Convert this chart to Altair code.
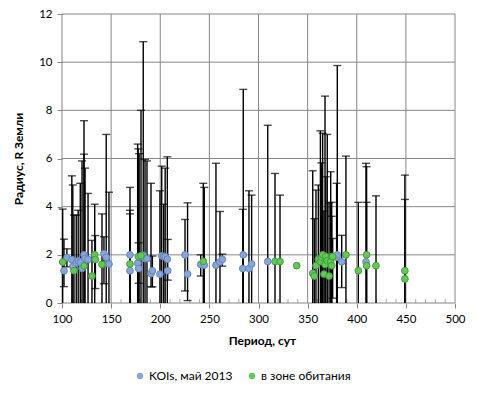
import altair as alt
import pandas as pd

# --- data ---
koi_period = [102.0, 105.0, 110.0, 111.0, 114.5, 116.5, 118.6, 120.4, 122.4, 123.5, 126.5,
              142.7, 145.0, 147.8, 169.2, 169.2, 177.0, 178.0, 178.5, 182.7, 184.5, 186.5,
              190.6, 192.0, 199.7, 201.5, 203.5, 205.0, 207.2, 207.6, 225.2, 227.8, 241.2,
              244.8, 256.7, 260.8, 263.2, 284.5, 284.0, 290.3, 293.0, 309.4, 379.5, 380.2,
              384.7, 409.4]
koi_radius = [1.34, 1.88, 1.80, 1.52, 1.67, 1.75, 1.69, 1.44, 2.00, 1.85, 1.81,
              2.05, 1.90, 1.62, 2.00, 1.34, 1.65, 1.43, 1.90, 1.98, 1.84, 1.84,
              1.22, 1.34, 1.20, 1.96, 1.93, 1.93, 1.82, 1.34, 2.00, 1.20, 1.60,
              1.57, 1.57, 1.71, 1.81, 2.00, 1.43, 1.43, 1.62, 1.72, 1.90, 2.00,
              1.71, 1.71]
koi_top = [2.65, 2.25, 5.28, 4.90, 3.65, 3.85, 4.97, 5.90, 7.57, 5.60, 4.55,
           2.75, 7.00, 4.60, 4.80, 3.70, 6.60, 2.50, 6.20, 10.85, 5.96, 5.90,
           4.97, 1.95, 4.66, 5.68, 4.10, 5.60, 6.07, 2.64, 3.47, 4.16, 2.00,
           4.80, 5.80, 3.80, 2.03, 8.87, 3.89, 4.66, 4.48, 7.38, 4.97, 9.86,
           2.81, 5.80]
koi_bottom = [0.68, 1.50, 0, 0, 0, 0, 0, 0, 0, 0, 0,
              0.80, 0, 0, 0, 0, 0, 0.82, 0, 0, 0, 0,
              0.67, 0.67, 0, 0, 0, 0, 0, 0.95, 0.50, 0.10, 1.12,
              0, 0, 0, 1.53, 0, 0, 0, 0, 0, 0, 0,
              0.64, 0]

hz_period = [100.7, 112.2, 122.4, 130.5, 133.3, 134.0, 140.7, 169.2, 177.7, 180.4,
             243.8, 316.8, 321.9, 338.9, 355.2, 356.8, 358.5, 360.9, 363.0, 364.0,
             365.3, 366.6, 367.7, 368.5, 370.0, 371.8, 373.5, 374.5, 374.5, 375.5,
             389.0, 401.6, 410.0, 410.0, 419.6, 449.0, 449.0]
hz_radius = [1.70, 1.34, 1.54, 1.12, 2.00, 1.81, 1.60, 1.62, 1.93, 1.96,
             1.73, 1.72, 1.72, 1.55, 1.23, 1.12, 1.55, 1.81, 1.72, 1.90,
             2.00, 1.20, 1.60, 1.93, 1.75, 1.12, 1.72, 1.93, 1.55, 1.93,
             2.00, 1.34, 2.00, 1.55, 1.55, 1.34, 1.00]
hz_top = [3.90, 3.65, 6.18, 2.60, 4.10, 2.80, 3.70, 3.85, 6.40, 8.00,
          4.97, 5.38, 4.48, 1.55, 5.49, 3.50, 4.69, 4.90, 7.15, 5.82,
          7.05, 3.82, 8.59, 5.24, 7.00, 4.16, 5.45, 4.18, 3.60, 2.68,
          6.10, 4.18, 5.66, 4.18, 4.45, 5.31, 4.30]
hz_bottom = [0, 0, 0, 0, 0, 0.60, 0, 0, 0, 0,
             0, 0, 0, 1.55, 0, 0, 0, 0, 0, 0,
             0, 0, 0, 0, 0, 0, 0, 0, 0, 0.20,
             0, 0, 0, 0, 0, 0, 0]

series_names = ["KOIs, май 2013", "в зоне обитания"]
x_ticks = [100, 150, 200, 250, 300, 350, 400, 450, 500]
x_minor = [110, 120, 130, 140, 160, 170, 180, 190, 210, 220, 230, 240, 260, 270, 280, 290,
           310, 320, 330, 340, 360, 370, 380, 390, 410, 420, 430, 440, 460, 470, 480, 490]
y_ticks = [0, 2, 4, 6, 8, 10, 12]

FONT = "Lato"
GRID = "#868686"

df = pd.concat([
    pd.DataFrame({"period": koi_period, "radius": koi_radius, "top": koi_top,
                  "bottom": koi_bottom, "series": series_names[0]}),
    pd.DataFrame({"period": hz_period, "radius": hz_radius, "top": hz_top,
                  "bottom": hz_bottom, "series": series_names[1]}),
], ignore_index=True)
bars = df[df["top"] > df["radius"]].copy()
low_caps = bars[bars["bottom"] > 0].copy()
minor = pd.DataFrame({"period": x_minor, "radius": [0] * len(x_minor)})
xgrid = pd.DataFrame({"period": x_ticks})
ygrid = pd.DataFrame({"radius": y_ticks})

xs = alt.Scale(domain=[100, 500], nice=False, zero=False, padding=0)
ys = alt.Scale(domain=[0, 12], nice=False, zero=False, padding=0)

x_axis = alt.Axis(values=x_ticks, title="Период, сут", grid=False, domain=False,
                  ticks=True, tickSize=5, labelPadding=5, labelFlush=False, labelOverlap=False,
                  titleX=200, titleY=37, titleBaseline="middle")
y_axis = alt.Axis(values=y_ticks, title="Радиус, R Земли", grid=False, domain=False,
                  ticks=True, tickSize=5, labelPadding=5, labelFlush=False, labelOverlap=False,
                  titleX=-44, titleY=144.5, titleBaseline="middle")


def X(field):
    return alt.X(field, type="quantitative", scale=xs, axis=x_axis)


def Y(field):
    return alt.Y(field, type="quantitative", scale=ys, axis=y_axis)


grid_v = alt.Chart(xgrid).mark_rule(color=GRID, strokeWidth=1).encode(x=X("period"))
grid_h = alt.Chart(ygrid).mark_rule(color=GRID, strokeWidth=1).encode(y=Y("radius"))
minor_ticks = alt.Chart(minor).mark_tick(color=GRID, orient="vertical", size=4, thickness=1, yOffset=-2).encode(
    x=X("period"), y=Y("radius"),
)
rules = alt.Chart(bars).mark_rule(color="black", strokeWidth=1.4).encode(
    x=X("period"), y=Y("bottom"), y2="top:Q",
)
top_caps = alt.Chart(bars).mark_tick(color="black", orient="horizontal", size=8, thickness=1.4).encode(
    x=X("period"), y=Y("top"),
)
bot_caps = alt.Chart(low_caps).mark_tick(color="black", orient="horizontal", size=8, thickness=1.4).encode(
    x=X("period"), y=Y("bottom"),
)
points = alt.Chart(df).mark_point(filled=True, size=45, opacity=1, strokeWidth=1).encode(
    x=X("period"), y=Y("radius"),
    fill=alt.Fill("series:N", sort=series_names,
                  scale=alt.Scale(domain=series_names, range=["#86A6DB", "#62C957"]),
                  legend=alt.Legend(title=None, orient="none", legendX=72, legendY=356,
                                    direction="horizontal", symbolType="circle", symbolSize=40,
                                    symbolStrokeWidth=0, labelFont=FONT, labelFontSize=12,
                                    labelColor="#000", columnPadding=13, labelOffset=3)),
    stroke=alt.Stroke("series:N", scale=alt.Scale(domain=series_names, range=["#6785BF", "#3F9E3A"]),
                      legend=None),
)

chart = alt.layer(grid_v, grid_h, minor_ticks, rules, top_caps, bot_caps, points).properties(
    width=393, height=289,
    autosize=alt.AutoSizeParams(type="none"),
    padding={"left": 54, "top": 6, "right": 18, "bottom": 87},
    background="white",
).configure_view(stroke=None).configure_axis(
    tickColor=GRID, tickWidth=1, labelColor="#000", labelFont=FONT, labelFontSize=11.5,
    titleFont=FONT, titleFontSize=12, titleFontWeight="bold", titleColor="#000",
)

chart.save("out.html", embed_options={"renderer": "svg", "actions": False})
